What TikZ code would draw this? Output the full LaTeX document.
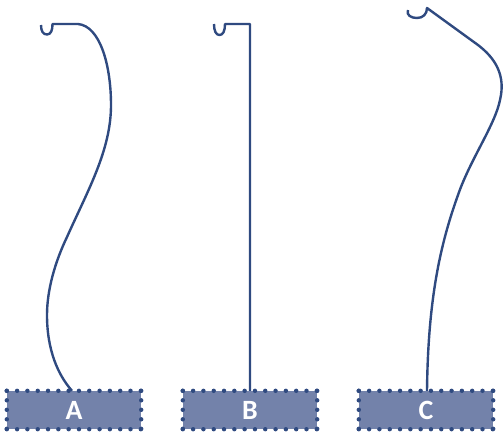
\documentclass[tikz,border=0pt]{standalone}
\usepackage{fontspec}
\setmainfont{Carlito}
\definecolor{navy}{HTML}{2F4A80}
\definecolor{boxfill}{HTML}{7382AA}
\tikzset{
  x=1bp, y=-1bp,
  wire/.style={draw=navy, line width=2.4bp, line join=round},
  labelbox/.style={rectangle, fill=boxfill, minimum width=134bp, minimum height=38bp, inner sep=0pt,
    text=white, font=\fontsize{28}{28}\selectfont\bfseries},
  dotsh/.style={draw=navy, line width=4.4bp, line cap=round, dash pattern=on 0pt off 10.3077bp},
  dotsv/.style={draw=navy, line width=4.4bp, line cap=round, dash pattern=on 0pt off 9.5bp},
}
\begin{document}
\begin{tikzpicture}
\useasboundingbox (0,0) rectangle (504,432);
% boxes
\foreach \n/\cx/\t in {A/74/A, B/250/B, C/426/C}{
  \node[labelbox] (\n) at (\cx,410) {\t};
  \draw[dotsh] (\n.north west) -- (\n.north east);
  \draw[dotsh] (\n.south west) -- (\n.south east);
  \draw[dotsv] (\n.north west) -- (\n.south west);
  \draw[dotsv] (\n.north east) -- (\n.south east);
}
% hook start points
\coordinate (ha) at (41,25);
\coordinate (hb) at (214,24);
\coordinate (hc) at (408,10);
% A
\draw[wire] (ha) .. controls (41,31) and (43,34.5) .. (47,34.5)
  .. controls (51,34.5) and (52.5,30) .. (52.5,24) -- (78,24)
  .. controls (100,26) and (111,65) .. (111,105)
  .. controls (111,150) and (88,190) .. (67,237)
  .. controls (55,262) and (47,290) .. (47,315)
  .. controls (47,350) and (58,375) .. ([xshift=-2bp]A.north);
% B
\draw[wire] (hb) .. controls (214,31) and (216,35) .. (219.5,35)
  .. controls (223,35) and (225,31) .. (225,24) -- (250,24) -- (B.north);
% C
\draw[wire] (hc) .. controls (406,15) and (411,18) .. (417,18)
  .. controls (423,18) and (427,14) .. (427,8) -- (478,45)
  .. controls (495,58) and (506,75) .. (500,100)
  .. controls (495,125) and (470,160) .. (458,195)
  .. controls (440,245) and (428,300) .. ([xshift=1bp]C.north);
\end{tikzpicture}
\end{document}
